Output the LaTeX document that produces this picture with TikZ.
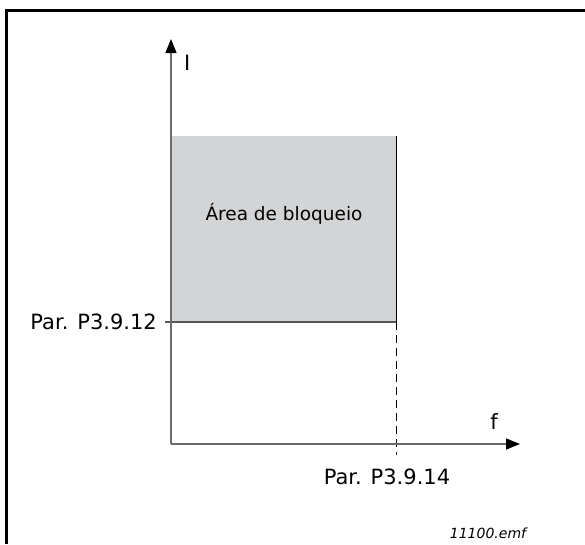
\documentclass[tikz,border=0pt]{standalone}
\usepackage{fontspec}
\setmainfont{DejaVu Sans}
\usetikzlibrary{arrows.meta,calc}
\definecolor{AreaClr}{rgb}{0.827,0.831,0.839}
\definecolor{AxisClr}{rgb}{0.42,0.42,0.42}

\tikzset{
  axis/.style={draw=AxisClr,line width=1.4pt,-{Triangle[length=14pt,width=11pt,color=black]}},
  lbl/.style={inner sep=0pt,font=\fontsize{21}{24}\selectfont},
  arealbl/.style={inner sep=0pt,font=\fontsize{18.5}{22}\selectfont},
  filelbl/.style={inner sep=0pt,font=\fontsize{14}{16}\selectfont\itshape}
}

\begin{document}
\begin{tikzpicture}[x=1pt,y=-1pt]
\useasboundingbox (0,0) rectangle (585,544);

% frame
\draw[line width=3pt] (585,10.5) -- (6.5,10.5) -- (6.5,544);

\coordinate (O) at (171,444);
\coordinate (Ytip) at (171,39);
\coordinate (Xtip) at (520,444);
\coordinate (A) at (172,136);
\coordinate (B) at (396,136);
\coordinate (C) at (396,322);
\coordinate (D) at (172,322);
\coordinate (T) at (165,322);
\coordinate (E) at (396,455);

\fill[AreaClr] (A) rectangle (C);
\draw[black,line width=1pt] (B) -- (C);
\draw[AxisClr!80!black,line width=1.2pt] (T) -- (C);
\draw[black,line width=1pt,dash pattern=on 8pt off 5pt] (C) -- (E);

\draw[axis] (O) -- (Ytip);
\draw[axis] (O) -- (Xtip);

\node[lbl,anchor=west] (Ilbl) at (184,63) {I};
\node[lbl] (flbl) at (494,422) {f};
\node[lbl,anchor=east] (P12) at (157,322) {Par. P3.9.12};
\node[lbl] (P14) at (387,477) {Par. P3.9.14};
\node[arealbl] (area) at (284,214) {Área de bloqueio};
\node[filelbl] (emf) at (488,533) {11100.emf};

\end{tikzpicture}
\end{document}
